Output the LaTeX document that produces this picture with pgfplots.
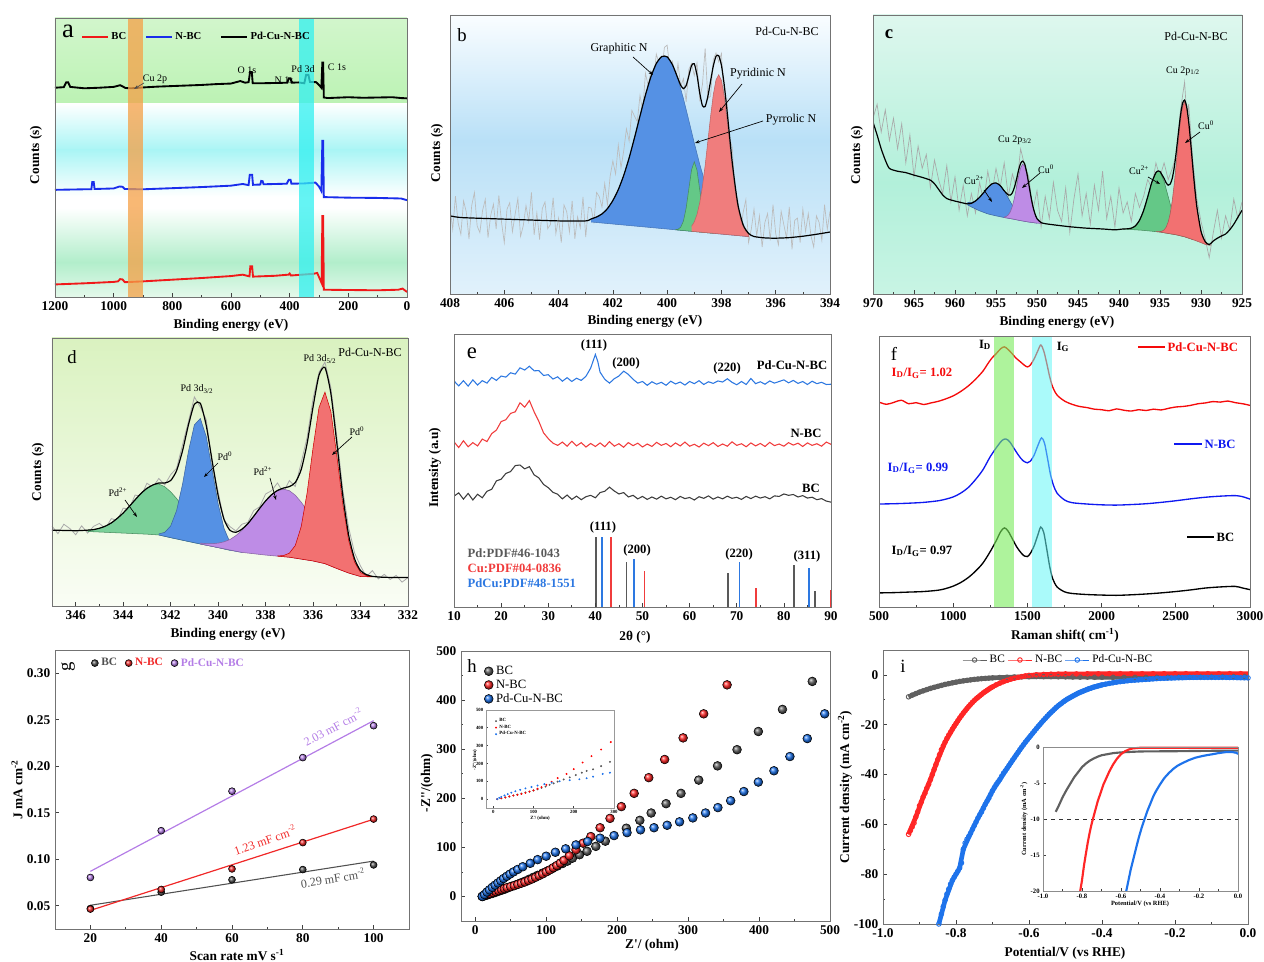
\documentclass[border=0pt]{standalone}
\usepackage{pgfplots}
\pgfplotsset{compat=1.18}
\usepackage{fontspec}
\setmainfont{Liberation Serif}
\usetikzlibrary{arrows.meta}
\definecolor{aRed}{RGB}{240,25,25}
\definecolor{aBlue}{RGB}{25,45,235}
\definecolor{aOrange}{RGB}{245,160,70}
\definecolor{aCyan}{RGB}{50,240,240}
\definecolor{aG1}{RGB}{210,246,204}
\definecolor{aG2}{RGB}{188,242,180}
\definecolor{aC}{RGB}{170,245,245}
\definecolor{aM}{RGB}{178,238,203}
\definecolor{aM2}{RGB}{228,249,235}
\definecolor{bTop}{RGB}{250,253,255}
\definecolor{bMid}{RGB}{185,224,247}
\definecolor{bBot}{RGB}{225,241,251}
\definecolor{cTop}{RGB}{222,247,238}
\definecolor{cMid}{RGB}{178,240,218}
\definecolor{cBot}{RGB}{200,244,228}
\definecolor{dTop}{RGB}{218,242,192}
\definecolor{dBot}{RGB}{250,253,245}
\definecolor{fitBlue}{RGB}{85,145,228}
\definecolor{fitGreen}{RGB}{100,200,135}
\definecolor{fitRed}{RGB}{240,125,125}
\definecolor{fitPurple}{RGB}{190,140,230}
\definecolor{rawGray}{RGB}{188,188,188}
\definecolor{eBlue}{RGB}{45,120,225}
\definecolor{eRed}{RGB}{240,60,60}
\definecolor{eBlack}{RGB}{60,60,60}
\definecolor{fRed}{RGB}{245,10,10}
\definecolor{fBlue}{RGB}{15,25,240}
\definecolor{fGreen}{RGB}{120,235,90}
\definecolor{fCyan}{RGB}{100,245,245}
\definecolor{gGray}{RGB}{80,80,80}
\definecolor{gRed}{RGB}{240,40,40}
\definecolor{gPurple}{RGB}{180,125,230}
\definecolor{hBlue}{RGB}{30,115,235}
\newcommand\fL{\fontsize{14}{16}\selectfont}
\newcommand\fLL{\fontsize{20}{22}\selectfont}
\newcommand\fLab{\fontsize{10}{12}\selectfont\bfseries}
\newcommand\fAnn{\fontsize{7.5}{9}\selectfont}
\newcommand\fMid{\fontsize{9}{10}\selectfont}
\newcommand\fBold{\fontsize{9.5}{11}\selectfont\bfseries}
\pgfplotsset{
  pan/.style={scale only axis, anchor=south west, axis on top,
    tick align=inside, xtick pos=left, ytick pos=left,
    major tick length=3pt, minor tick length=1.8pt,
    tick style={black!75, line width=0.5pt},
    axis line style={black!55, line width=0.6pt},
    tick label style={font=\fontsize{10}{11}\selectfont\bfseries},
    /pgf/number format/assume math mode=true,
    /pgf/number format/1000 sep={}},
  noy/.style={ytick=\empty, ymin=0, ymax=100},
}
\begin{document}
\begin{tikzpicture}
\useasboundingbox (0,0) rectangle (948pt,721.5pt);
% ================= a =================
\begin{axis}[pan, noy, at={(41.25pt,498.75pt)}, width=264pt, height=209.25pt,
  xmin=0, xmax=1200, x dir=reverse, xtick={0,200,...,1200}, minor x tick num=1,
  legend style={at={(0.062,0.932)}, anchor=west, draw=none, fill=none, legend columns=3,
    font=\fontsize{8}{9}\selectfont\bfseries, /tikz/every even column/.append style={column sep=12pt}},
  legend image code/.code={\draw[#1, line width=1.8pt] (0pt,0pt) -- (19pt,0pt);}]
\shade[top color=aG1, bottom color=aG2] (rel axis cs:0,0.695) rectangle (rel axis cs:1,1);
\shade[top color=white, bottom color=aC] (rel axis cs:0,0.527) rectangle (rel axis cs:1,0.695);
\shade[top color=aC, bottom color=white] (rel axis cs:0,0.36) rectangle (rel axis cs:1,0.527);
\shade[top color=white, bottom color=aM] (rel axis cs:0,0.125) rectangle (rel axis cs:1,0.32);
\shade[top color=aM, bottom color=aM2] (rel axis cs:0,0) rectangle (rel axis cs:1,0.125);
\addplot[aRed, line width=1.4pt] coordinates {(1200,4.5) (1100,4.9) (1000,5.4) (985,5.6) (978,6.4) (970,6.3) (962,5.3) (900,5.6) (800,6.2) (700,6.8) (600,7.5) (560,8.0) (545,7.6) (537,7.4) (534,11.0) (528,11.0) (525,7.3) (450,7.6) (404,8.0) (400,8.4) (396,7.7) (320,8.3) (306,8.6) (296,6.2) (291,5.0) (288.5,29.0) (286,29.0) (283.5,2.6) (200,2.5) (100,2.4) (30,2.6) (15,3.0) (5,2.2) (0,1.8)};
\addlegendentry{BC}
\addplot[aBlue, line width=1.4pt] coordinates {(1200,38.4) (1100,38.6) (1076,38.6) (1073,41.2) (1068,41.2) (1065,38.7) (1000,38.9) (980,39.6) (970,39.5) (962,38.7) (900,38.6) (800,39.0) (700,39.4) (600,39.9) (560,40.5) (540,40.1) (536,43.8) (528,43.8) (525,40.2) (500,40.3) (497,41.6) (492,41.5) (489,40.4) (410,40.6) (403,42.0) (397,42.0) (394,40.6) (350,40.7) (312,41.0) (300,39.6) (292,38.0) (288.5,56.0) (286,56.0) (283.5,35.8) (200,35.6) (100,35.5) (20,35.3) (0,34.7)};
\addlegendentry{N-BC}
\addplot[black, line width=1.4pt] coordinates {(1200,75.0) (1170,75.2) (1162,76.9) (1155,76.9) (1148,75.3) (1100,74.8) (1050,75.0) (1000,75.3) (978,75.9) (968,75.4) (960,74.9) (940,74.8) (900,75.1) (850,75.4) (800,75.6) (750,75.8) (700,76.0) (650,76.3) (600,76.5) (568,77.4) (552,76.8) (540,77.0) (535,80.6) (529,80.6) (526,76.6) (500,76.6) (450,76.7) (408,76.8) (403,78.4) (397,78.4) (393,76.8) (370,76.9) (350,76.6) (344,79.6) (336,79.6) (331,77.1) (310,77.0) (300,76.0) (292,75.0) (288.5,84.0) (286,84.0) (283.5,71.5) (270,71.3) (200,71.6) (150,71.4) (100,71.5) (50,71.6) (20,71.3) (0,71.2)};
\addlegendentry{Pd-Cu-N-BC}
\fill[aOrange, opacity=0.75] (axis cs:900,0) rectangle (axis cs:951,100);
\fill[aCyan, opacity=0.75] (axis cs:317,0) rectangle (axis cs:368,100);
\end{axis}
% ================= b =================
\begin{axis}[pan, noy, at={(337.5pt,501pt)}, width=285pt, height=209.25pt,
  xmin=394, xmax=408, x dir=reverse, xtick={394,396,...,408}, minor x tick num=1]
\shade[top color=bTop, bottom color=bMid] (rel axis cs:0,0.55) rectangle (rel axis cs:1,1);
\shade[top color=bMid, bottom color=bBot] (rel axis cs:0,0) rectangle (rel axis cs:1,0.55);
\addplot[rawGray, line width=0.5pt] coordinates {(408.0,31.2)(407.9,23.2)(407.8,35.1)(407.7,25.5)(407.6,21.4)(407.5,33.4)(407.4,29.4)(407.3,19.7)(407.2,31.7)(407.1,36.4)(407.0,24.4)(406.9,22.0)(406.8,29.9)(406.7,33.9)(406.6,20.2)(406.5,28.2)(406.4,32.2)(406.3,23.3)(406.2,35.3)(406.1,25.6)(406.0,18.4)(405.9,30.4)(405.8,32.7)(405.7,22.3)(405.6,28.6)(405.5,34.2)(405.4,20.6)(405.3,24.5)(405.2,31.7)(405.1,26.0)(405.0,36.4)(404.9,21.2)(404.8,29.1)(404.7,19.5)(404.6,30.6)(404.5,33.0)(404.4,23.4)(404.3,24.9)(404.2,34.5)(404.1,21.6)(404.0,27.2)(403.9,18.4)(403.8,31.9)(403.7,29.5)(403.6,22.2)(403.5,33.4)(403.4,19.8)(403.3,27.7)(403.2,23.7)(403.1,34.8)(403.0,20.4)(402.9,31.1)(402.8,30.8)(402.7,25.8)(402.6,36.4)(402.5,34.9)(402.4,31.1)(402.3,39.6)(402.2,32.0)(402.1,42.2)(402.0,47.7)(401.9,43.0)(401.8,53.4)(401.7,45.2)(401.6,51.3)(401.5,59.2)(401.4,54.8)(401.3,65.8)(401.2,63.7)(401.1,61.8)(401.0,71.2)(400.9,65.6)(400.8,79.1)(400.7,74.8)(400.6,79.6)(400.5,76.6)(400.4,86.0)(400.3,82.7)(400.2,79.7)(400.1,88.4)(400.0,89.2)(399.9,80.8)(399.8,83.3)(399.7,75.0)(399.6,82.6)(399.5,74.4)(399.4,77.2)(399.3,68.9)(399.2,80.6)(399.1,82.6)(399.0,78.3)(398.9,82.8)(398.8,69.7)(398.7,75.0)(398.6,88.0)(398.5,70.1)(398.4,70.9)(398.3,84.0)(398.2,86.4)(398.1,83.2)(398.0,86.2)(397.9,69.0)(397.8,69.9)(397.7,55.8)(397.6,52.5)(397.5,36.5)(397.4,34.2)(397.3,21.6)(397.2,29.2)(397.1,33.8)(397.0,18.4)(396.9,23.2)(396.8,30.4)(396.7,20.8)(396.6,28.0)(396.5,16.8)(396.4,25.6)(396.3,28.8)(396.2,19.2)(396.1,32.0)(396.0,21.6)(395.9,17.6)(395.8,29.6)(395.7,24.8)(395.6,20.0)(395.5,31.2)(395.4,16.0)(395.3,26.4)(395.2,27.2)(395.1,18.4)(395.0,30.4)(394.9,22.4)(394.8,28.8)(394.7,20.8)(394.6,16.8)(394.5,28.0)(394.4,25.6)(394.3,19.2)(394.2,32.0)(394.1,23.2)(394.0,29.6)};
\addplot[fill=fitBlue, draw=fitBlue!80!black, line width=0.4pt] coordinates {(402.8,26.9)(402.6,27.56)(402.4,28.74)(402.2,30.65)(402.0,33.47)(401.8,37.4)(401.6,42.52)(401.4,48.84)(401.2,56.06)(401.0,63.78)(400.8,71.3)(400.6,77.82)(400.4,82.64)(400.2,85.16)(400.0,84.98)(399.8,82.1)(399.6,76.92)(399.4,70.04)(399.2,62.16)(399.0,54.08)(398.8,46.5)(398.6,39.82)(398.4,34.34)(398.2,30.05)(398.0,26.87)(397.8,24.6)(397.6,23.06)(397.4,22.03)(397.2,21.35)(397.0,20.88)(397.0,20.58)(402.8,25.8)};
\addplot[fill=fitGreen, draw=fitGreen!70!black, line width=0.4pt] coordinates {(399.7,23.06)(399.6,23.2)(399.5,23.93)(399.4,26.12)(399.3,30.77)(399.2,37.72)(399.1,44.53)(399.0,47.38)(398.9,44.35)(398.8,37.36)(398.7,30.23)(398.6,25.4)(398.5,23.03)(398.4,22.12)(398.3,21.8)(398.3,21.75)(399.7,23.01)};
\addplot[fill=fitRed, draw=fitRed!80!black, line width=0.4pt] coordinates {(399.1,24.25)(399.0,25.83)(398.9,28.5)(398.8,32.65)(398.7,38.5)(398.6,46.0)(398.5,54.69)(398.4,63.58)(398.3,71.38)(398.2,76.72)(398.1,78.57)(398.0,76.54)(397.9,71.02)(397.8,63.04)(397.7,53.97)(397.6,45.1)(397.5,37.42)(397.4,31.39)(397.3,27.06)(397.2,24.21)(397.1,22.45)(397.0,21.44)(397.0,20.58)(399.1,22.47)};
\addplot[black, line width=0.9pt, smooth, tension=0.4] coordinates {(408,28.0)(407.6,27.4)(406.5,27.0)(405,26.5)(404,26.2)(403,26.2)(402.8,26.9)(402.6,27.6)(402.4,28.7)(402.2,30.6)(402.0,33.5)(401.8,37.4)(401.6,42.5)(401.4,48.8)(401.2,56.1)(401.0,63.8)(400.8,71.3)(400.6,77.8)(400.4,82.6)(400.2,85.1)(400.0,85.0)(399.8,82.1)(399.6,77.2)(399.5,74.8)(399.4,73.6)(399.3,74.7)(399.2,78.2)(399.1,81.9)(399.0,82.5)(398.9,78.5)(398.8,72.1)(398.7,67.5)(398.6,67.2)(398.5,70.8)(398.4,76.3)(398.3,81.7)(398.2,85.2)(398.1,85.4)(398.0,82.0)(397.9,75.2)(397.8,66.3)(397.6,47.1)(397.4,32.4)(397.2,24.8)(397.0,21.7)(396.8,20.6)(396.4,20.1)(396,20.0)(395.5,20.2)(395,20.7)(394.5,21.4)(394,22.2)};
\end{axis}
% ================= c =================
\begin{axis}[pan, noy, at={(654.75pt,501pt)}, width=276.75pt, height=209.25pt,
  xmin=925, xmax=970, x dir=reverse, xtick={925,930,...,970}, minor x tick num=1]
\shade[top color=cTop, bottom color=cMid] (rel axis cs:0,0.4) rectangle (rel axis cs:1,1);
\shade[top color=cMid, bottom color=cBot] (rel axis cs:0,0) rectangle (rel axis cs:1,0.4);
\addplot[rawGray!90!black, line width=0.5pt] coordinates {(970.0,63)(969.5,68)(969.0,58)(968.5,66)(968.0,55)(967.5,63)(967.0,52)(966.5,61)(966.0,47)(965.5,57)(965.0,42)(964.5,53)(964.0,45)(963.5,50)(963.0,38)(962.5,48)(962.0,41)(961.5,36)(961.0,46)(960.5,33)(960.0,42)(959.5,30)(959.0,39)(958.5,28)(958.0,36)(957.5,29)(957.0,40)(956.5,33)(956.0,44)(955.5,36)(955.0,45)(954.5,38)(954.0,47)(953.5,35)(953.0,43)(952.5,38)(952.0,52)(951.5,46)(951.0,42)(950.5,30)(950.0,37)(949.5,24)(949.0,35)(948.5,27)(948.0,40)(947.5,30)(947.0,26)(946.5,38)(946.0,22)(945.5,34)(945.0,43)(944.5,28)(944.0,36)(943.5,25)(943.0,39)(942.5,30)(942.0,44)(941.5,27)(941.0,35)(940.5,24)(940.0,38)(939.5,29)(939.0,33)(938.5,26)(938.0,36)(937.5,31)(937.0,35)(936.5,41)(936.0,38)(935.5,47)(935.0,42)(934.5,47)(934.0,41)(933.5,45)(933.0,50)(932.5,66)(932.0,76)(931.7,62)(931.5,68)(931.0,48)(930.5,34)(930.0,26)(929.5,20)(929.0,13)(928.5,22)(928.0,30)(927.5,20)(927.0,28)(926.5,23)(926.0,34)(925.5,27)(925.0,33)};
\addplot[fill=fitBlue, draw=fitBlue!70!black, line width=0.4pt] coordinates {(958.5,32.78)(958,32.8)(957.5,33.34)(957,34.65)(956.5,36.36)(956,38.15)(955.5,39.46)(955,39.8)(954.5,38.86)(954,36.85)(953.5,34.36)(953,31.75)(952.5,29.54)(952,27.9)(951.5,26.78)(951,26.14)(950.5,25.73)(950,25.45)(950,25.4)(951,25.8)(952,26.3)(953,26.9)(954,27.4)(955,28.0)(956,28.7)(957,29.8)(958,31.2)(958.5,32.0)};
\addplot[fill=fitPurple, draw=fitPurple!70!black, line width=0.4pt] coordinates {(954,27.59)(953.75,27.79)(953.5,28.35)(953.25,29.47)(953,31.46)(952.75,34.44)(952.5,38.2)(952.25,42.12)(952,45.2)(951.75,46.57)(951.5,45.8)(951.25,43.0)(951,39.1)(950.75,34.89)(950.5,31.3)(950.25,28.66)(950,26.97)(949.75,26.05)(949.5,25.58)(949.5,25.3)(950,25.4)(951,25.8)(952,26.3)(953,26.9)(954,27.4)};
\addplot[fill=fitGreen, draw=fitGreen!70!black, line width=0.4pt] coordinates {(939.5,23.34)(939,23.35)(938.5,23.6)(938,24.43)(937.5,26.37)(937,29.88)(936.5,34.75)(936,40.0)(935.5,43.45)(935.2,44.06)(935,43.7)(934.5,40.35)(934,34.9)(933.5,29.45)(933,25.26)(932.5,22.59)(932,21.12)(931.5,20.19)(931,19.55)(931,19.5)(932,20.5)(933,21.2)(935,22.2)(937,22.8)(939.5,23.3)};
\addplot[fill=fitRed!90!red, draw=fitRed!70!black, line width=0.4pt] coordinates {(935.5,22.38)(935.25,22.35)(935,22.39)(934.75,22.53)(934.5,22.97)(934.25,23.95)(934,25.8)(933.75,28.89)(933.5,33.52)(933.25,39.78)(933,47.31)(932.75,55.23)(932.5,62.33)(932.25,67.25)(932,68.9)(931.75,66.82)(931.5,61.48)(931.25,53.95)(931,45.61)(930.75,37.68)(930.5,31.02)(930.25,26.0)(930,22.5)(929.75,20.22)(929.5,18.82)(929.25,18.1)(929,17.69)(928.8,17.55)(928.8,17.5)(929,17.5)(929.5,17.8)(930,18.4)(931,19.5)(932,20.5)(933,21.2)(935,22.2)(935.5,22.35)};
\addplot[black, line width=0.9pt, smooth, tension=0.4] coordinates {(970,61.6)(969.5,57)(969,52)(968.5,48)(968,45)(967,44)(966,43.5)(965,42.6)(964,41.8)(963,40.8)(962.5,39.5)(962,37.5)(961.5,35.5)(961,34.2)(960.5,33.7)(960,33.3)(959,32.6)(958.5,32.3)(958,32.5)(957.5,33.34)(957,34.65)(956.5,36.36)(956,38.15)(955.5,39.46)(955,39.8)(954.5,38.9)(954,37.0)(953.5,35.5)(953.25,35.45)(953,36.3)(952.75,38.27)(952.5,41.1)(952.25,44.3)(952,46.8)(951.75,47.6)(951.5,46.6)(951.25,43.5)(951,39.4)(950.75,35.1)(950.5,31.4)(950.25,28.8)(950,27.0)(949.5,25.6)(949,25.2)(948,24.8)(946,24.1)(944,23.6)(942,23.3)(940.5,23.0)(939.5,23.3)(939,23.35)(938.5,23.6)(938,24.4)(937.5,26.4)(937,29.9)(936.5,34.8)(936,40.0)(935.5,43.5)(935.2,44.1)(935,43.9)(934.5,41.4)(934.25,39.85)(934,39.0)(933.75,39.4)(933.5,41.5)(933.25,45.6)(933,51.4)(932.75,57.9)(932.5,64.1)(932.25,68.35)(932,69.5)(931.75,67.2)(931.5,61.7)(931.25,54.05)(931,45.6)(930.75,37.7)(930.5,31.1)(930,22.5)(929.5,18.8)(929,17.7)(928.5,19.0)(928,20.0)(927.5,20.8)(927,21.5)(926.5,23.0)(926,25.0)(925.5,27.5)(925,30.0)};
\end{axis}
% ================= d =================
\begin{axis}[pan, noy, at={(39pt,267pt)}, width=267pt, height=201pt,
  xmin=332, xmax=347, x dir=reverse, xtick={332,334,...,346}, minor x tick num=1]
\shade[top color=dTop, bottom color=dBot] (rel axis cs:0,0) rectangle (rel axis cs:1,1);
\addplot[rawGray!90!black, line width=0.6pt] coordinates {(347,29.8)(346.75,27.0)(346.5,30.5)(346.25,28.9)(346.0,26.6)(345.75,29.9)(345.5,27.2)(345.25,29.7)(345.0,30.8)(344.75,28.9)(344.5,32.6)(344.25,31.9)(344.0,36.5)(343.75,36.2)(343.5,41.4)(343.25,40.9)(343.0,45.8)(342.75,44.3)(342.5,47.6)(342.25,45.2)(342.0,49.0)(341.75,51.4)(341.5,60.1)(341.25,68.9)(341.0,78.0)(340.75,74.2)(340.5,69.5)(340.25,53.0)(340.0,42.6)(339.75,32.0)(339.5,29.6)(339.25,28.0)(339.0,30.5)(338.75,31.2)(338.5,35.6)(338.25,37.0)(338.0,41.8)(337.75,43.0)(337.5,45.9)(337.25,42.3)(337.0,46.8)(336.75,44.6)(336.5,53.5)(336.25,62.9)(336.0,77.4)(335.75,87.2)(335.5,91.0)(335.25,81.5)(335.0,63.4)(334.75,43.5)(334.5,29.2)(334.25,19.8)(334.0,14.9)(333.75,11.0)(333.5,13.2)(333.25,10.1)(333.0,11.8)(332.75,9.9)(332.5,11.4)(332.25,8.9)(332.0,10.6)};
\addplot[fill=fitGreen!85, draw=fitGreen!70!black, line width=0.4pt] coordinates {(345.5,28.3)(345.25,28.5)(345.0,29.0)(344.75,29.8)(344.5,31.0)(344.25,32.7)(344.0,34.7)(343.75,37.1)(343.5,39.6)(343.25,42.0)(343.0,43.9)(342.75,45.15)(342.5,45.5)(342.25,44.5)(342.0,42.6)(341.75,40.1)(341.5,37.1)(341.25,34.1)(341.0,31.1)(340.75,28.55)(340.5,26.3)(340.25,24.55)(340.0,23.2)(339.75,22.1)(339.5,21.3)(339.5,20.8)(340,21.8)(341,23.6)(342,25.5)(342.5,26.5)(343,26.8)(344,27.2)(345,27.6)(345.5,27.8)};
\addplot[fill=fitBlue, draw=fitBlue!70!black, line width=0.4pt] coordinates {(342.5,26.9)(342.25,27.46)(342.0,29.85)(341.75,35.58)(341.5,45.4)(341.25,57.7)(341.0,67.6)(340.75,69.95)(340.5,63.2)(340.25,50.75)(340.0,38.1)(339.75,28.9)(339.5,23.7)(339.25,21.3)(339.0,20.22)(339.0,20.0)(339.5,20.8)(340,21.8)(341,23.6)(342,25.5)(342.5,26.5)};
\addplot[fill=fitPurple, draw=fitPurple!70!black, line width=0.4pt] coordinates {(340.75,23.47)(340.5,23.27)(340.25,23.25)(340.0,23.46)(339.75,23.94)(339.5,24.81)(339.25,26.26)(339.0,28.18)(338.75,30.69)(338.5,33.51)(338.25,36.44)(338.0,39.18)(337.75,41.49)(337.5,43.02)(337.25,43.58)(337.0,43.05)(336.75,41.34)(336.5,38.76)(336.25,35.57)(336.0,32.08)(335.75,28.44)(335.5,25.04)(335.25,21.63)(335.0,18.69)(334.75,16.28)(334.5,14.3)(334.25,12.88)(334.0,11.72)(333.75,11.32)(333.75,10.92)(334,11.0)(334.5,12.3)(335,14.0)(335.5,15.8)(336,16.8)(337,18.2)(338,19.0)(339,20.0)(340,21.8)(340.75,23.15)};
\addplot[fill=fitRed!90!red, draw=red!80!black, line width=0.4pt] coordinates {(337.5,18.68)(337.25,18.8)(337.0,19.7)(336.75,22.55)(336.5,29.6)(336.25,42.25)(336.0,59.0)(335.75,74.0)(335.5,79.8)(335.25,72.6)(335.0,56.2)(334.75,38.25)(334.5,24.4)(334.25,16.35)(334.0,12.5)(333.75,11.32)(333.5,10.93)(333.5,10.85)(334,11.0)(334.5,12.3)(335,14.0)(335.5,15.8)(336,16.8)(337,18.2)(337.5,18.6)};
\addplot[black, line width=0.9pt, smooth, tension=0.4] coordinates {(347,28.3)(346,28.1)(345.5,28.3)(345.25,28.5)(345,29.0)(344.75,29.8)(344.5,31.0)(344.25,32.7)(344,34.7)(343.75,37.1)(343.5,39.6)(343.25,42.0)(343,43.9)(342.75,45.15)(342.5,45.9)(342.25,45.9)(342,46.8)(341.75,50.5)(341.5,57.9)(341.25,67.6)(341,75.3)(340.75,75.65)(340.5,67.3)(340.25,54.05)(340,41.2)(339.75,32.3)(339.5,28.2)(339.25,27.5)(339,28.65)(338.75,30.7)(338.5,33.5)(338.25,36.45)(338,39.2)(337.75,41.5)(337.5,43.1)(337.25,44.0)(337,44.55)(336.75,46.05)(336.5,50.9)(336.25,60.65)(336,74.3)(335.75,86.1)(335.5,89.0)(335.25,79.3)(335,60.9)(334.75,41.35)(334.5,26.4)(334.25,17.55)(334,13.2)(333.75,11.7)(333.5,11.05)(333,10.7)(332,10.6)};
\end{axis}
% ================= e =================
\begin{axis}[pan, noy, at={(340.5pt,266.25pt)}, width=282.75pt, height=204.75pt,
  xmin=10, xmax=90, xtick={10,20,...,90}, minor x tick num=1]
\addplot[eBlue, line width=0.8pt] coordinates {(10,82.8)(11,81.0)(12,82.9)(13,80.9)(14,83.2)(15,81.3)(16,82.9)(17,82.0)(18,84.1)(19,83.0)(20,84.6)(21,84.2)(22,85.8)(23,85.3)(24,87.6)(25,86.8)(26,88.2)(27,86.5)(28,86.6)(29,84.8)(30,85.1)(31,83.5)(32,84.3)(33,82.7)(34,84.0)(35,82.6)(36,83.8)(37,83.0)(38,84.5)(39,87.5)(40,92.5)(40.5,90.0)(41,86.0)(42,83.4)(43,82.0)(44,83.6)(45,84.6)(46,86.4)(47,85.2)(48,83.4)(49,82.0)(50,82.6)(51,81.2)(52,82.5)(53,81.6)(54,82.3)(55,81.2)(56,82.7)(57,81.7)(58,82.4)(59,81.3)(60,82.6)(61,81.8)(62,82.9)(63,81.5)(64,82.5)(65,81.9)(66,82.8)(67,82.4)(68,83.6)(69,82.3)(70,81.4)(71,82.6)(72,81.5)(73,83.7)(74,81.8)(75,82.5)(76,81.6)(77,82.8)(78,82.0)(79,82.6)(80,83.2)(81,82.1)(82,83.0)(83,81.9)(84,82.6)(85,81.5)(86,82.7)(87,81.8)(88,82.3)(89,81.5)(90,81.6)};
\addplot[eRed, line width=0.8pt] coordinates {(10,60.5)(11,58.4)(12,60.9)(13,58.7)(14,60.2)(15,59.0)(16,61.5)(17,60.6)(18,63.5)(19,64.8)(20,67.9)(21,68.6)(22,70.9)(23,71.5)(24,74.8)(25,73.2)(26,75.6)(27,71.5)(28,68.0)(29,63.8)(30,61.7)(31,60.0)(32,59.2)(33,60.4)(34,58.9)(35,60.7)(36,59.0)(37,60.2)(38,58.6)(39,59.9)(40,58.8)(41,60.1)(42,58.7)(43,60.6)(44,58.9)(45,59.8)(46,58.5)(47,60.2)(48,59.1)(49,60.0)(50,58.6)(51,59.7)(52,58.8)(53,60.3)(54,59.2)(55,59.9)(56,58.7)(57,60.1)(58,59.0)(59,60.4)(60,58.9)(61,59.6)(62,58.6)(63,60.0)(64,59.1)(65,60.2)(66,58.8)(67,59.7)(68,58.9)(69,60.5)(70,59.2)(71,59.8)(72,58.7)(73,60.1)(74,59.0)(75,59.9)(76,58.8)(77,60.3)(78,59.1)(79,59.7)(80,58.9)(81,60.2)(82,59.3)(83,60.0)(84,58.8)(85,60.1)(86,59.2)(87,59.8)(88,58.9)(89,60.4)(90,59.6)};
\addplot[eBlack, line width=0.8pt] coordinates {(10,40.6)(11,41.8)(12,39.5)(13,41.6)(14,39.2)(15,41.3)(16,40.0)(17,42.4)(18,43.1)(19,46.2)(20,46.8)(21,48.9)(22,49.6)(23,51.8)(24,52.0)(25,50.6)(26,51.4)(27,48.4)(28,47.3)(29,44.9)(30,43.7)(31,42.0)(32,41.3)(33,39.6)(34,41.0)(35,39.4)(36,40.6)(37,39.3)(38,40.4)(39,40.9)(40,40.0)(41,41.9)(42,42.4)(43,43.9)(44,42.5)(45,41.4)(46,41.9)(47,40.3)(48,40.9)(49,39.6)(50,40.5)(51,39.4)(52,40.3)(53,39.5)(54,40.6)(55,39.6)(56,40.2)(57,39.3)(58,40.5)(59,39.7)(60,40.1)(61,39.2)(62,40.4)(63,39.8)(64,40.7)(65,39.5)(66,40.3)(67,39.6)(68,40.6)(69,39.8)(70,40.2)(71,39.4)(72,40.5)(73,39.7)(74,40.6)(75,39.9)(76,40.4)(77,39.6)(78,40.7)(79,40.5)(80,41.4)(81,40.9)(82,41.2)(83,40.3)(84,40.8)(85,39.9)(86,40.2)(87,39.3)(88,39.7)(89,38.8)(90,38.4)};
\addplot[ycomb, gray!70!black, line width=1.1pt] coordinates {(40.1,25.6) (46.6,16.5) (68.1,12.5) (82.1,15.4) (86.6,5.9)};
\addplot[ycomb, eBlue, line width=1.1pt] coordinates {(41.4,25.6) (48.2,17.6) (70.6,16.5) (85.3,14.3)};
\addplot[ycomb, eRed, line width=1.1pt] coordinates {(43.3,25.6) (50.4,13.2) (74.1,7.0) (89.9,6.2)};
\end{axis}
% ================= f =================
\begin{axis}[pan, noy, at={(659.25pt,266.25pt)}, width=278.25pt, height=203.25pt,
  xmin=500, xmax=3000, xtick={500,1000,...,3000}, minor x tick num=1]
\addplot[fRed, line width=1pt, smooth] coordinates {(500,75.6)(550,74.8)(600,75.5)(650,76.3)(700,75.0)(750,75.4)(800,74.7)(850,75.3)(900,75.9)(950,76.8)(1000,77.9)(1050,79.5)(1100,81.5)(1150,84.0)(1200,87.0)(1230,89.5)(1260,91.8)(1290,93.5)(1320,95.3)(1345,96.0)(1370,95.0)(1400,93.3)(1420,92.0)(1450,90.6)(1480,89.2)(1500,88.6)(1520,89.3)(1545,91.5)(1570,94.5)(1590,96.7)(1610,94.5)(1630,90.0)(1650,85.0)(1670,81.2)(1700,78.2)(1750,76.0)(1800,74.8)(1850,74.0)(1900,73.6)(1950,73.0)(2000,72.8)(2050,72.4)(2100,73.1)(2150,72.6)(2200,72.3)(2250,72.8)(2300,72.5)(2350,73.0)(2400,72.7)(2450,73.3)(2500,73.8)(2550,74.0)(2600,74.4)(2650,75.0)(2700,75.3)(2750,75.8)(2800,75.6)(2850,76.0)(2900,75.4)(2950,75.0)(3000,74.4)};
\addplot[fBlue, line width=1pt, smooth] coordinates {(500,38.0)(600,38.1)(700,38.3)(800,38.6)(900,39.2)(950,39.8)(1000,40.6)(1050,42.0)(1100,44.0)(1150,47.0)(1200,50.6)(1250,55.5)(1300,59.5)(1330,61.5)(1355,62.0)(1380,61.0)(1410,58.5)(1440,56.0)(1470,54.0)(1500,53.2)(1520,53.8)(1545,56.0)(1570,59.5)(1595,62.4)(1615,60.5)(1635,55.0)(1655,49.0)(1675,45.0)(1700,42.0)(1750,39.5)(1800,38.5)(1900,38.0)(2000,37.7)(2100,37.6)(2200,37.8)(2300,38.1)(2400,38.6)(2500,39.2)(2600,39.9)(2700,40.5)(2800,40.9)(2900,41.1)(2950,40.7)(3000,39.8)};
\addplot[black, line width=1pt, smooth] coordinates {(500,5.2)(600,5.3)(700,5.5)(800,5.7)(900,6.2)(950,6.8)(1000,7.7)(1050,9.0)(1100,10.8)(1150,13.2)(1200,16.2)(1250,20.5)(1290,24.5)(1320,27.8)(1345,29.2)(1370,28.0)(1400,25.0)(1430,22.0)(1460,19.8)(1480,18.8)(1500,18.6)(1520,19.8)(1545,22.5)(1570,26.5)(1590,29.5)(1610,27.5)(1630,21.5)(1650,15.0)(1670,10.5)(1700,7.4)(1750,5.6)(1800,5.0)(1900,4.6)(2000,4.4)(2100,4.3)(2200,4.5)(2300,4.8)(2400,5.2)(2500,5.7)(2600,6.3)(2700,7.0)(2800,7.4)(2900,7.6)(2950,7.0)(3000,6.4)};
\fill[fGreen, opacity=0.6] (axis cs:1272,0) rectangle (axis cs:1411,100);
\fill[fCyan, opacity=0.55] (axis cs:1530,0) rectangle (axis cs:1665,100);
\end{axis}
% ================= g =================
\begin{axis}[pan, at={(41.25pt,24.75pt)}, width=265.5pt, height=209.25pt,
  xmin=10, xmax=110, ymin=0.025, ymax=0.325, xtick={20,40,...,100}, minor x tick num=1,
  ytick={0.05,0.10,0.15,0.20,0.25,0.30},
  yticklabel style={/pgf/number format/.cd, fixed, fixed zerofill, precision=2},
  legend style={at={(0.09,0.953)}, anchor=west, draw=none, fill=none, legend columns=3,
    font=\fontsize{8.5}{9}\selectfont\bfseries, /tikz/every even column/.append style={column sep=4pt}},
  legend image code/.code={\draw[mark repeat=2,mark phase=2,#1] plot coordinates {(0pt,0pt) (7pt,0pt) (14pt,0pt)};}]
\addplot[only marks, mark=ball, mark size=2.6pt, ball color=gGray] coordinates {(20,0.047) (40,0.0646) (60,0.0779) (80,0.0889) (100,0.0939)};
\addlegendentry{\textcolor{gGray}{BC}}
\addplot[only marks, mark=ball, mark size=2.6pt, ball color=gRed] coordinates {(20,0.0464) (40,0.0675) (60,0.0896) (80,0.1179) (100,0.1432)};
\addlegendentry{\textcolor{gRed}{N-BC}}
\addplot[only marks, mark=ball, mark size=2.6pt, ball color=gPurple] coordinates {(20,0.0804) (40,0.1307) (60,0.1732) (80,0.2093) (100,0.2436)};
\addlegendentry{\textcolor{gPurple}{Pd-Cu-N-BC}}
\addplot[gGray, line width=0.8pt, forget plot] coordinates {(20,0.0505) (100,0.098)};
\addplot[gRed, line width=0.9pt, forget plot] coordinates {(20,0.045) (100,0.143)};
\addplot[gPurple, line width=0.9pt, forget plot] coordinates {(20,0.087) (100,0.249)};
\end{axis}
% ================= h =================
\begin{axis}[pan, at={(345.75pt,30.75pt)}, width=276.75pt, height=202.5pt,
  xmin=-20, xmax=500, ymin=-50, ymax=500, xtick={0,100,...,500}, ytick={0,100,...,500},
  minor tick num=1, legend cell align=left,
  legend style={at={(0.051,0.965)}, anchor=north west, draw=none, fill=none,
    font=\fontsize{9.5}{10}\selectfont, row sep=-1.5pt},
  legend image code/.code={\draw[mark repeat=2,mark phase=2,#1] plot coordinates {(0pt,0pt) (7pt,0pt) (14pt,0pt)};}]
\addplot[only marks, mark=ball, mark size=3.3pt, ball color=gray!75!black] coordinates {(10,0) (12,1) (14,2) (17,3) (20,4.5) (24,6) (28,8) (32,10) (37,12.5) (42,15) (47,18) (52,21) (58,24) (64,27.5) (70,31) (76,35) (82,39) (88,43) (95,47.5) (102,52) (109,57) (116,62) (123,67) (130,72) (137,78) (147,85) (157.6,92) (170,102) (183.4,112.6) (213,139) (232,155) (248,170) (269,189) (290,210) (315,237) (341.5,266) (369,299) (399,336) (433,381) (475,438)};
\addlegendentry{BC}
\addplot[only marks, mark=ball, mark size=3.3pt, ball color=red!85] coordinates {(10,0) (12,1.5) (15,3) (18,4.5) (21,6) (25,8) (29,10) (33,12) (37,14) (41,16) (45,18) (50,20) (55,22) (60,24.5) (65,27) (70,29.5) (75,32.5) (80,35.5) (85,39) (90,42.5) (95,46) (100,50) (105,54) (110,58.5) (115,63) (120,68) (125,73.5) (132.6,83) (142,95) (152,108.5) (163,122) (176,140) (190,159) (206,183) (224,210) (244.6,242) (267,279) (293,323) (322,372) (355,431)};
\addlegendentry{N-BC}
\addplot[only marks, mark=ball, mark size=3.3pt, ball color=hBlue] coordinates {(10,0) (13,4) (16.5,9) (20,13.5) (24,18.5) (28,23) (32,27.5) (36,32) (40,36.5) (44.5,41) (49,45.5) (54,50) (60,55) (67,60.5) (77.6,67.5) (88,75) (100,82) (113,90) (127.5,97) (142,105) (158.5,112) (176,118.7) (195.7,124) (214,130) (233,135.7) (252,140) (270.5,145) (288,152) (306.7,160) (324.6,170) (342,181) (360,195) (378.6,213.7) (399,233) (421,256) (443.5,285) (468,321.6) (492.5,372)};
\addlegendentry{Pd-Cu-N-BC}
\end{axis}
\begin{axis}[pan, at={(364.5pt,115.5pt)}, width=96pt, height=73.5pt,
  axis background/.style={fill=white}, axis line style={black!40, line width=0.5pt},
  xmin=-18, xmax=300, ymin=-50, ymax=500, xtick={0,100,200,300}, ytick={0,100,...,500},
  major tick length=1.5pt, tick label style={font=\fontsize{3.6}{4}\selectfont\bfseries},
  xticklabel style={yshift=1.5pt}, yticklabel style={xshift=1.5pt}, legend cell align=left,
  legend style={at={(0.04,0.97)}, anchor=north west, draw=none, fill=none,
    font=\fontsize{3.6}{4}\selectfont\bfseries, row sep=-3pt},
  legend image code/.code={\draw[mark repeat=2,mark phase=2,#1] plot coordinates {(0pt,0pt) (2pt,0pt) (4pt,0pt)};}]
\addplot[only marks, mark=*, mark size=0.5pt, gray!70!black] coordinates {(10,0) (20,4) (30,9) (40,14) (50,20) (60,25) (70,31) (80,37) (90,42) (100,48) (110,55) (120,63) (130,70) (140,80) (150,88) (160,98) (175,110) (190,122) (205,135) (220,148) (232,158) (248,167) (268,185) (290,209)};
\addlegendentry{BC}
\addplot[only marks, mark=*, mark size=0.5pt, red] coordinates {(10,0) (20,5) (30,9) (40,15) (50,20) (60,24) (70,29) (80,35) (90,42) (100,49) (110,58) (120,67) (132,80) (145,97) (160,118) (182,141) (200,168) (222,205) (244,241) (268,278) (292,320)};
\addlegendentry{N-BC}
\addplot[only marks, mark=*, mark size=0.5pt, hBlue] coordinates {(10,0) (15,7) (20,12) (28,20) (36,28) (45,36) (55,44) (67,52) (80,60) (95,68) (110,76) (127,84) (145,92) (165,100) (190,106) (214,111) (232,117) (248,126) (272,141) (290,148)};
\addlegendentry{Pd-Cu-N-BC}
\end{axis}
% ================= i =================
\begin{axis}[pan, at={(662.25pt,28.5pt)}, width=273.75pt, height=205.5pt,
  xmin=-1, xmax=0, ymin=-100, ymax=10, xtick={-1,-0.8,-0.6,-0.4,-0.2,0}, ytick={-100,-80,...,0},
  minor tick num=1,
  xticklabel style={/pgf/number format/.cd, fixed, fixed zerofill, precision=1},
  legend style={at={(0.205,0.9635)}, anchor=west, draw=none, fill=none, legend columns=3,
    font=\fontsize{8.5}{9}\selectfont, /tikz/every odd column/.append style={column sep=0pt}},
  legend image code/.code={\draw[mark repeat=2,mark phase=2,#1] plot coordinates {(0pt,0pt) (9pt,0pt) (18pt,0pt)};}]
\addplot[gray!75!black, line width=3.5pt, forget plot] coordinates {(-0.93,-8.8) (-0.90,-6.9) (-0.87,-5.4) (-0.84,-4.2) (-0.81,-3.2) (-0.78,-2.4) (-0.75,-1.8) (-0.72,-1.4) (-0.69,-1.1) (-0.64,-0.85) (-0.58,-0.7) (-0.5,-0.8) (-0.4,-0.95) (-0.3,-1.0) (-0.2,-0.9) (-0.1,-0.8) (0,-0.6)};
\addplot[gray!75!black, line width=0.7pt, mark=o, mark size=1.7pt] coordinates {(-0.93,-8.8) (-0.92,-8.1) (-0.91,-7.5) (-0.90,-6.9) (-0.89,-6.4) (-0.88,-5.9) (-0.87,-5.4) (-0.86,-5.0) (-0.85,-4.6) (-0.84,-4.2) (-0.83,-3.8) (-0.82,-3.5) (-0.81,-3.2) (-0.80,-2.9) (-0.79,-2.6) (-0.78,-2.4) (-0.77,-2.2) (-0.76,-2.0) (-0.75,-1.8) (-0.74,-1.65) (-0.73,-1.5) (-0.72,-1.4) (-0.71,-1.3) (-0.70,-1.2) (-0.68,-1.05) (-0.66,-0.95) (-0.64,-0.85) (-0.62,-0.8) (-0.60,-0.75) (-0.58,-0.7) (-0.56,-0.7) (-0.54,-0.7) (-0.52,-0.75) (-0.50,-0.8) (-0.48,-0.85) (-0.46,-0.9) (-0.44,-0.9) (-0.42,-0.95) (-0.40,-0.95) (-0.37,-1.0) (-0.34,-1.0) (-0.31,-1.0) (-0.28,-1.0) (-0.25,-0.95) (-0.22,-0.95) (-0.19,-0.9) (-0.16,-0.9) (-0.13,-0.85) (-0.10,-0.8) (-0.07,-0.75) (-0.04,-0.7) (-0.01,-0.6)};
\addlegendentry{BC}
\addplot[red!85, line width=3.5pt, forget plot] coordinates {(-0.93,-64) (-0.91,-57) (-0.89,-49) (-0.87,-42) (-0.85,-34) (-0.83,-27) (-0.81,-21.8) (-0.79,-17.3) (-0.77,-13.5) (-0.75,-10.3) (-0.73,-7.8) (-0.71,-5.7) (-0.69,-4.0) (-0.67,-2.7) (-0.65,-1.7) (-0.63,-1.0) (-0.61,-0.4) (-0.58,0.05) (-0.5,0.4) (-0.3,0.5) (0,0.5)};
\addplot[red!85, line width=0.7pt, mark=o, mark size=1.7pt] coordinates {(-0.93,-64) (-0.925,-62.5) (-0.92,-61) (-0.915,-59.5) (-0.91,-57) (-0.905,-55) (-0.90,-52.5) (-0.895,-51) (-0.89,-49) (-0.885,-47.5) (-0.88,-45.5) (-0.875,-44) (-0.87,-42) (-0.865,-40) (-0.86,-38) (-0.855,-36) (-0.85,-34) (-0.845,-32) (-0.84,-30) (-0.835,-28.5) (-0.83,-27) (-0.825,-25.5) (-0.82,-24.2) (-0.815,-23) (-0.81,-21.8) (-0.805,-20.6) (-0.80,-19.5) (-0.795,-18.4) (-0.79,-17.3) (-0.785,-16.3) (-0.78,-15.3) (-0.775,-14.4) (-0.77,-13.5) (-0.765,-12.6) (-0.76,-11.8) (-0.755,-11.0) (-0.75,-10.3) (-0.745,-9.6) (-0.74,-9.0) (-0.735,-8.4) (-0.73,-7.8) (-0.725,-7.2) (-0.72,-6.7) (-0.715,-6.2) (-0.71,-5.7) (-0.705,-5.2) (-0.70,-4.8) (-0.69,-4.0) (-0.68,-3.3) (-0.67,-2.7) (-0.66,-2.2) (-0.65,-1.7) (-0.64,-1.3) (-0.63,-1.0) (-0.62,-0.7) (-0.61,-0.4) (-0.60,-0.2) (-0.58,0.05) (-0.56,0.2) (-0.54,0.3) (-0.52,0.35) (-0.50,0.4) (-0.47,0.4) (-0.44,0.45) (-0.41,0.45) (-0.38,0.5) (-0.35,0.5) (-0.32,0.5) (-0.29,0.5) (-0.26,0.5) (-0.23,0.5) (-0.20,0.5) (-0.17,0.5) (-0.14,0.5) (-0.11,0.5) (-0.08,0.5) (-0.05,0.5) (-0.02,0.5)};
\addlegendentry{N-BC}
\addplot[hBlue, line width=3.5pt, forget plot] coordinates {(-0.847,-100) (-0.83,-90.5) (-0.81,-82.5) (-0.79,-77.5) (-0.78,-70) (-0.76,-63.5) (-0.74,-57.5) (-0.72,-52) (-0.70,-46.5) (-0.68,-42) (-0.66,-37.5) (-0.64,-33.2) (-0.62,-29) (-0.60,-25.2) (-0.58,-21.6) (-0.56,-18.2) (-0.54,-15.1) (-0.52,-12.4) (-0.50,-10.2) (-0.48,-8.5) (-0.46,-7.0) (-0.44,-5.8) (-0.42,-4.8) (-0.40,-4.0) (-0.36,-2.9) (-0.32,-2.2) (-0.28,-1.8) (-0.24,-1.4) (-0.20,-1.2) (-0.14,-1.0) (-0.06,-1.0) (0,-1.2)};
\addplot[hBlue, line width=0.7pt, mark=o, mark size=1.7pt] coordinates {(-0.847,-100) (-0.84,-96) (-0.835,-93) (-0.83,-90.5) (-0.825,-88) (-0.82,-86) (-0.815,-84) (-0.81,-82.5) (-0.805,-81.2) (-0.80,-80) (-0.795,-78.8) (-0.79,-77.5) (-0.785,-75.5) (-0.78,-70) (-0.775,-67.5) (-0.77,-66) (-0.765,-64.8) (-0.76,-63.5) (-0.755,-62) (-0.75,-60.5) (-0.745,-59) (-0.74,-57.5) (-0.735,-56.2) (-0.73,-55) (-0.725,-53.5) (-0.72,-52) (-0.715,-50.7) (-0.71,-49.5) (-0.705,-48) (-0.70,-46.5) (-0.695,-45.2) (-0.69,-44) (-0.685,-43) (-0.68,-42) (-0.675,-40.7) (-0.67,-39.5) (-0.665,-38.5) (-0.66,-37.5) (-0.655,-36.4) (-0.65,-35.3) (-0.645,-34.2) (-0.64,-33.2) (-0.635,-32.1) (-0.63,-31.1) (-0.625,-30) (-0.62,-29) (-0.615,-28) (-0.61,-27) (-0.605,-26.1) (-0.60,-25.2) (-0.595,-24.3) (-0.59,-23.4) (-0.585,-22.5) (-0.58,-21.6) (-0.575,-20.7) (-0.57,-19.9) (-0.565,-19) (-0.56,-18.2) (-0.555,-17.4) (-0.55,-16.6) (-0.545,-15.8) (-0.54,-15.1) (-0.535,-14.4) (-0.53,-13.7) (-0.525,-13) (-0.52,-12.4) (-0.515,-11.8) (-0.51,-11.3) (-0.505,-10.7) (-0.50,-10.2) (-0.495,-9.7) (-0.49,-9.3) (-0.485,-8.9) (-0.48,-8.5) (-0.475,-8.1) (-0.47,-7.7) (-0.465,-7.3) (-0.46,-7.0) (-0.455,-6.7) (-0.45,-6.4) (-0.445,-6.1) (-0.44,-5.8) (-0.435,-5.5) (-0.43,-5.3) (-0.425,-5.0) (-0.42,-4.8) (-0.415,-4.6) (-0.41,-4.4) (-0.405,-4.2) (-0.40,-4.0) (-0.39,-3.7) (-0.38,-3.4) (-0.37,-3.15) (-0.36,-2.9) (-0.35,-2.7) (-0.34,-2.5) (-0.33,-2.35) (-0.32,-2.2) (-0.31,-2.1) (-0.30,-2.0) (-0.29,-1.9) (-0.28,-1.8) (-0.27,-1.7) (-0.26,-1.6) (-0.25,-1.5) (-0.24,-1.4) (-0.23,-1.35) (-0.22,-1.3) (-0.21,-1.25) (-0.20,-1.2) (-0.19,-1.15) (-0.18,-1.1) (-0.17,-1.05) (-0.16,-1.0) (-0.15,-1.0) (-0.14,-1.0) (-0.13,-1.0) (-0.12,-1.0) (-0.11,-1.0) (-0.10,-1.0) (-0.09,-1.0) (-0.08,-1.0) (-0.07,-1.0) (-0.06,-1.0) (-0.05,-1.05) (-0.04,-1.05) (-0.03,-1.1) (-0.02,-1.1) (-0.01,-1.15) (0,-1.2)};
\addlegendentry{Pd-Cu-N-BC}
\end{axis}
\begin{axis}[pan, at={(782.25pt,53.25pt)}, width=146.25pt, height=108pt,
  axis background/.style={fill=white}, axis line style={black!45, line width=0.5pt},
  xmin=-1, xmax=0, ymin=-20, ymax=0, xtick={-1,-0.8,-0.6,-0.4,-0.2,0}, ytick={-20,-15,-10,-5,0},
  minor x tick num=1, major tick length=2pt, minor tick length=1.2pt,
  tick label style={font=\fontsize{5}{6}\selectfont\bfseries},
  xticklabel style={yshift=1pt, /pgf/number format/.cd, fixed, fixed zerofill, precision=1},
  yticklabel style={xshift=1pt}]
\addplot[black!80, dashed, line width=0.7pt] coordinates {(-1,-10) (0,-10)};
\addplot[gray!75!black, line width=1.6pt] coordinates {(-0.935,-9.0) (-0.92,-8.2) (-0.90,-7.0) (-0.88,-6.0) (-0.86,-5.1) (-0.84,-4.2) (-0.82,-3.5) (-0.80,-2.8) (-0.78,-2.3) (-0.76,-1.9) (-0.74,-1.6) (-0.72,-1.35) (-0.70,-1.15) (-0.67,-1.0) (-0.64,-0.85) (-0.60,-0.75) (-0.55,-0.68) (-0.5,-0.62) (-0.4,-0.6) (-0.3,-0.58) (-0.2,-0.55) (-0.1,-0.52) (0,-0.5)};
\addplot[red!85, line width=1.6pt] coordinates {(-0.809,-20) (-0.80,-18.5) (-0.79,-16.5) (-0.78,-14.8) (-0.77,-13.2) (-0.76,-11.8) (-0.75,-10.6) (-0.744,-10) (-0.73,-8.6) (-0.72,-7.6) (-0.71,-6.8) (-0.70,-6.0) (-0.69,-5.2) (-0.68,-4.6) (-0.67,-4.0) (-0.66,-3.4) (-0.65,-2.9) (-0.64,-2.4) (-0.63,-2.0) (-0.62,-1.6) (-0.61,-1.3) (-0.60,-1.0) (-0.59,-0.8) (-0.58,-0.6) (-0.56,-0.35) (-0.54,-0.2) (-0.50,-0.1) (-0.3,-0.1) (0,-0.1)};
\addplot[hBlue, line width=1.6pt] coordinates {(-0.573,-20) (-0.56,-18.3) (-0.55,-17.0) (-0.538,-15.7) (-0.525,-14.3) (-0.51,-12.7) (-0.495,-11.3) (-0.479,-10) (-0.465,-8.9) (-0.45,-7.9) (-0.435,-6.9) (-0.42,-6.1) (-0.40,-5.2) (-0.38,-4.4) (-0.368,-4.0) (-0.35,-3.5) (-0.33,-3.0) (-0.31,-2.6) (-0.282,-2.2) (-0.25,-1.8) (-0.22,-1.5) (-0.19,-1.3) (-0.163,-1.15) (-0.13,-1.0) (-0.10,-0.85) (-0.06,-0.7) (-0.03,-0.7) (-0.01,-0.8) (0,-0.95)};
\end{axis}
% ================= text in pixel coordinates =================
\begin{scope}[x=0.75pt, y=-0.75pt, yshift=721.5pt]
\tikzset{ar/.style={-{Stealth[length=3.5pt,width=2.5pt]}, line width=0.5pt}}
\node[font=\fLab] at (231,325) {Binding energy (eV)};
\node[font=\fLab, rotate=90] at (36,155) {Counts (s)};
\node[font=\fLab] at (645,321) {Binding energy (eV)};
\node[font=\fLab, rotate=90] at (437,153) {Counts (s)};
\node[font=\fLab] at (1057,322) {Binding energy (eV)};
\node[font=\fLab, rotate=90] at (857,155) {Counts (s)};
\node[font=\fLab] at (228,634) {Binding energy (eV)};
\node[font=\fLab, rotate=90] at (38,472) {Counts (s)};
\node[font=\fLab] at (635,637) {2θ (°)};
\node[font=\fLab, rotate=90] at (435,468) {Intensity (a.u)};
\node[font=\fLab] at (1065,635) {Raman shift( cm\textsuperscript{-1})};
\node[font=\fLab] at (237,955) {Scan rate mV s\textsuperscript{-1}};
\node[font=\fLab, rotate=90] at (17,790) {J mA cm\textsuperscript{-2}};
\node[font=\fLab] at (652,945) {Z\textquotesingle/ (ohm)};
\node[font=\fLab, rotate=90] at (427,783) {-Z\textquotesingle\textquotesingle/(ohm)};
\node[font=\fLab] at (1065,953) {Potential/V (vs RHE)};
\node[font=\fLab, rotate=90] at (845,787) {Current density (mA cm\textsuperscript{-2})};
\node[font=\fLL] at (68,31) {a};
\node[font=\fL] at (462,35) {b};
\node[font=\fL\bfseries] at (889,34) {c};
\node[font=\fL] at (72,357) {d};
\node[font=\fontsize{17}{18}\selectfont] at (472,353) {e};
\node[font=\fL] at (894,354) {f};
\node[font=\fL, rotate=90] at (68,667) {g};
\node[font=\fL] at (472,666) {h};
\node[font=\fL] at (903,666) {i};
\node[font=\fAnn] at (155,79) {Cu 2p};
\draw[ar, black!70] (144,83) -- (134,89);
\node[font=\fAnn] at (247,70) {O 1s};
\node[font=\fAnn] at (284,80) {N 1s};
\node[font=\fAnn] at (303,69) {Pd 3d};
\node[font=\fAnn] at (337,67) {C 1s};
\node[font=\fMid] at (787,31) {Pd-Cu-N-BC};
\node[font=\fMid] at (619,49) {Graphitic N};
\draw[ar] (633,57) -- (653,75);
\node[font=\fMid] at (758,74) {Pyridinic N};
\draw[ar] (742,84) -- (719,112);
\node[font=\fMid] at (791,120) {Pyrrolic N};
\draw[ar] (763,121) -- (695,143);
\node[font=\fMid] at (1196,36) {Pd-Cu-N-BC};
\node[font=\fAnn] at (1183,71) {Cu 2p\textsubscript{1/2}};
\node[font=\fAnn] at (1015,140) {Cu 2p\textsubscript{3/2}};
\node[font=\fAnn] at (1206,125) {Cu\textsuperscript{0}};
\draw[ar] (1200,132) -- (1185,143);
\node[font=\fAnn] at (1139,170) {Cu\textsuperscript{2+}};
\draw[ar] (1148,177) -- (1160,184);
\node[font=\fAnn] at (1046,169) {Cu\textsuperscript{0}};
\draw[ar] (1040,173) -- (1022,188);
\node[font=\fAnn] at (974,180) {Cu\textsuperscript{2+}};
\draw[ar] (984,190) -- (992,202);
\node[font=\fMid] at (370,352) {Pd-Cu-N-BC};
\node[font=\fAnn] at (320,359) {Pd 3d\textsubscript{5/2}};
\node[font=\fAnn] at (197,389) {Pd 3d\textsubscript{3/2}};
\node[font=\fAnn] at (225,456) {Pd\textsuperscript{0}};
\draw[ar] (218,463) -- (204,477);
\node[font=\fAnn] at (357,431) {Pd\textsuperscript{0}};
\draw[ar] (352,437) -- (332,455);
\node[font=\fAnn] at (118,492) {Pd\textsuperscript{2+}};
\draw[ar] (125,500) -- (137,517);
\node[font=\fAnn] at (263,471) {Pd\textsuperscript{2+}};
\draw[ar] (270,478) -- (276,500);
\node[font=\fBold] at (594,345) {(111)};
\node[font=\fBold] at (626,363) {(200)};
\node[font=\fBold] at (727,368) {(220)};
\node[font=\fBold] at (792,365) {Pd-Cu-N-BC};
\node[font=\fBold] at (806,433) {N-BC};
\node[font=\fBold] at (811,488) {BC};
\node[font=\fBold] at (603,527) {(111)};
\node[font=\fBold] at (637,550) {(200)};
\node[font=\fBold] at (739,554) {(220)};
\node[font=\fBold] at (807,556) {(311)};
\node[font=\fBold, text=gray!70!black, anchor=west] at (463,553) {Pd:PDF\#46-1043};
\node[font=\fBold, text=eRed, anchor=west] at (463,568) {Cu:PDF\#04-0836};
\node[font=\fBold, text=eBlue, anchor=west] at (463,583) {PdCu:PDF\#48-1551};
\node[font=\fBold] at (985,345) {I\textsubscript{D}};
\node[font=\fBold] at (1063,347) {I\textsubscript{G}};
\node[font=\fBold, text=fRed, anchor=west] at (887,373) {I\textsubscript{D}/I\textsubscript{G}= 1.02};
\node[font=\fBold, text=fBlue, anchor=west] at (883,468) {I\textsubscript{D}/I\textsubscript{G}= 0.99};
\node[font=\fBold, text=black, anchor=west] at (887,551) {I\textsubscript{D}/I\textsubscript{G}= 0.97};
\draw[fRed, line width=1.2pt] (1138,347) -- (1165,347);
\node[font=\fBold, text=fRed, anchor=west, inner sep=1pt] at (1166,347) {Pd-Cu-N-BC};
\draw[fBlue, line width=1.2pt] (1174,444) -- (1202,444);
\node[font=\fBold, text=fBlue, anchor=west, inner sep=1pt] at (1203,444) {N-BC};
\draw[black, line width=1.2pt] (1187,537) -- (1214,537);
\node[font=\fBold, anchor=west, inner sep=1pt] at (1215,537) {BC};
\node[font=\fMid, text=gPurple, rotate=28, inner sep=0.5pt] at (333,727) {2.03\kern.25em mF\kern.25em cm\textsuperscript{-2}};
\node[font=\fMid, text=gRed, rotate=19, inner sep=0.5pt] at (265,840) {1.23\kern.25em mF\kern.25em cm\textsuperscript{-2}};
\node[font=\fMid, text=gGray, rotate=9, inner sep=0.5pt] at (333,878) {0.29\kern.25em mF\kern.25em cm\textsuperscript{-2}};
\node[font=\fontsize{3.6}{4}\selectfont\bfseries] at (540,818) {Z\textquotesingle/ (ohm)};
\node[font=\fontsize{3.6}{4}\selectfont\bfseries, rotate=90] at (475,760) {-Z\textquotesingle\textquotesingle/(ohm)};
\node[font=\fontsize{4.8}{5}\selectfont\bfseries] at (1140,904) {Potential/V (vs RHE)};
\node[font=\fontsize{4.8}{5}\selectfont\bfseries, rotate=90] at (1024,819) {Current density (mA cm\textsuperscript{-2})};
\end{scope}
\end{tikzpicture}
\end{document}
